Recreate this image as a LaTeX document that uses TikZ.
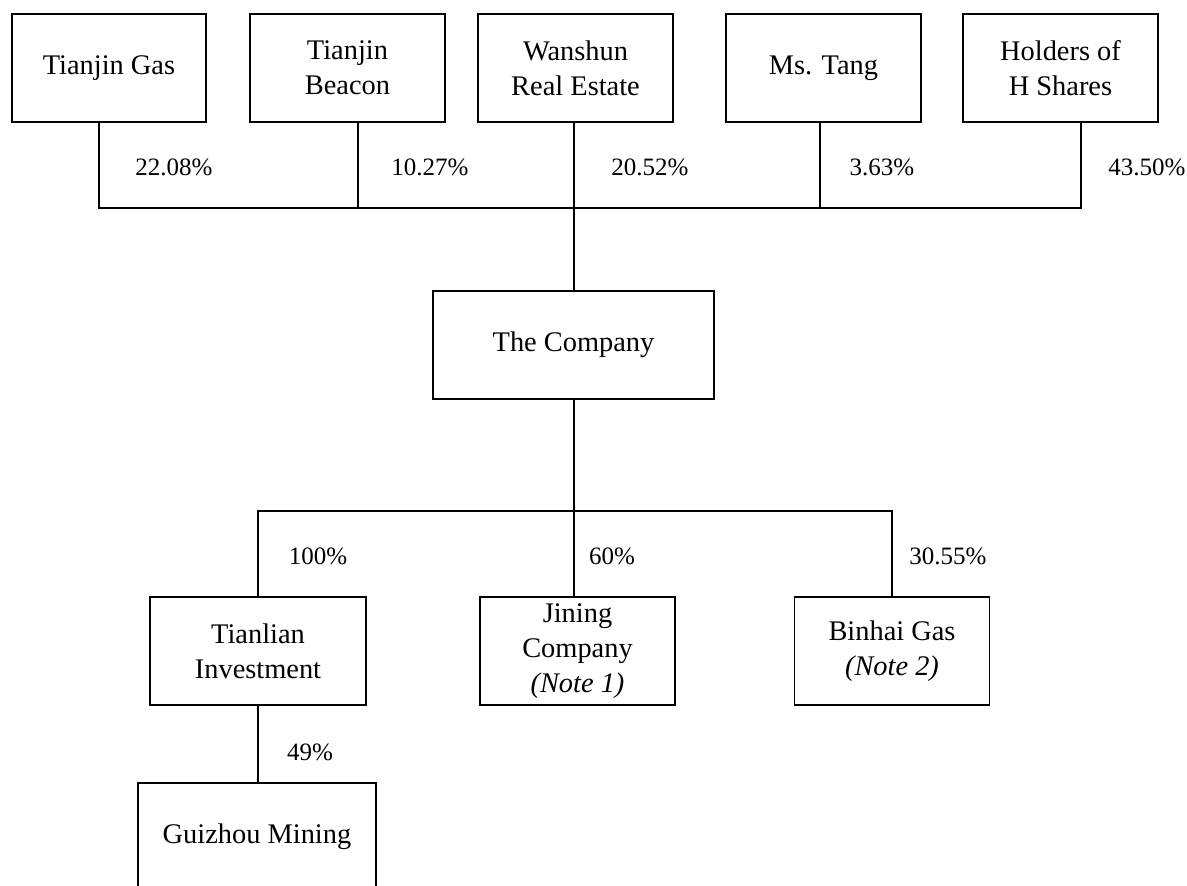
\documentclass[tikz,border=0pt]{standalone}
\usepackage{fontspec}
\setmainfont{Liberation Serif}
\begin{document}
\begin{tikzpicture}[x=0.5pt,y=-0.5pt,
  box/.style={draw,line width=0.9pt,inner sep=0pt,align=center,minimum height=54pt,
    font=\fontsize{14.2}{17.5}\selectfont},
  pct/.style={inner sep=0pt,font=\fontsize{12.5}{15}\selectfont},
  conn/.style={line width=0.9pt}]
\clip (0,0) rectangle (1187,885);
\fill[white] (0,0) rectangle (1187,885);
% top shareholders
\node[box,minimum width=97pt] (tg) at (109,68) {Tianjin Gas};
\node[box,minimum width=97.5pt] (tb) at (347.5,68) {Tianjin\\Beacon};
\node[box,minimum width=97.5pt] (wr) at (575.5,68) {Wanshun\\Real Estate};
\node[box,minimum width=97.5pt] (mt) at (823.5,68) {Ms. Tang};
\node[box,minimum width=97.5pt] (hs) at (1060.5,68) {Holders of\\H Shares};
% company
\node[box,minimum width=140.5pt] (co) at (573.5,345) {The Company};
% subsidiaries
\node[box,minimum width=108pt] (tl) at (258,651) {Tianlian\\Investment};
\node[box,minimum width=97.5pt] (jn) at (577.5,651) {Jining\\Company\\\textit{(Note 1)}};
\node[box,minimum width=97.5pt] (bh) at (892,651) {Binhai Gas\\\textit{(Note 2)}};
\node[box,minimum width=119pt] (gz) at (257,837) {Guizhou Mining};
% bus coordinates
\coordinate (b1) at (99,208);
\coordinate (b2) at (358,208);
\coordinate (b3) at (574,208);
\coordinate (b4) at (820,208);
\coordinate (b5) at (1081,208);
\coordinate (d1) at (258,511);
\coordinate (d2) at (574,511);
\coordinate (d3) at (892,511);
% upper connectors
\draw[conn] (tg.south -| b1) -- (b1) -- (b5) -- (hs.south -| b5);
\draw[conn] (tb.south -| b2) -- (b2);
\draw[conn] (mt.south -| b4) -- (b4);
\draw[conn] (wr.south -| b3) -- (co.north -| b3);
% lower connectors
\draw[conn] (co.south -| d2) -- (jn.north -| d2);
\draw[conn] (tl.north -| d1) -- (d1) -- (d3) -- (bh.north -| d3);
\draw[conn] (tl.south -| d1) -- (gz.north -| d1);
% percentages
\node[pct] (p1) at (174,167) {22.08\%};
\node[pct] (p2) at (430,167) {10.27\%};
\node[pct] (p3) at (650,167) {20.52\%};
\node[pct] (p4) at (882,167) {3.63\%};
\node[pct] (p5) at (1147,167) {43.50\%};
\node[pct] (p6) at (318,556) {100\%};
\node[pct] (p7) at (612,556) {60\%};
\node[pct] (p8) at (948,556) {30.55\%};
\node[pct] (p9) at (310,752) {49\%};
\end{tikzpicture}
\end{document}
